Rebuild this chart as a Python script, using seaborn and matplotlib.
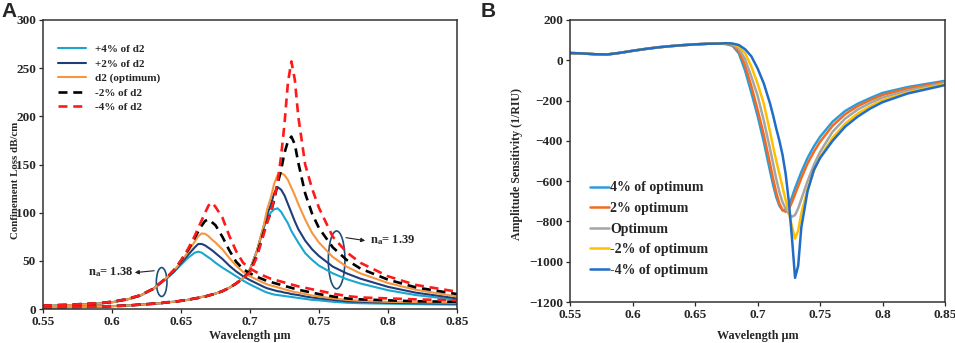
import numpy as np
import pandas as pd
import matplotlib
matplotlib.use("Agg")
import matplotlib.pyplot as plt
import seaborn as sns
from matplotlib.patches import Ellipse

# ===================== Data: panel A (confinement loss) =====================
wl_a = [0.55, 0.57, 0.59, 0.60, 0.61, 0.62, 0.63, 0.635, 0.64, 0.645,
        0.65, 0.655, 0.66, 0.6625, 0.665, 0.6675, 0.67, 0.6725, 0.675, 0.68,
        0.685, 0.69, 0.695, 0.70, 0.705, 0.71, 0.7125, 0.715, 0.7175, 0.72,
        0.7225, 0.725, 0.7275, 0.73, 0.7325, 0.735, 0.74, 0.745, 0.75, 0.76,
        0.77, 0.78, 0.80, 0.82, 0.85]

# n_a = 1.38
p4_138 = [3, 4, 5.5, 7, 9.5, 13.5, 21, 27, 32, 38.5, 46, 53, 58.5, 59.5, 58.5, 56, 53.5, 51, 48, 43,
          38.5, 34, 29.5, 25.5, 22, 18.5, 17, 16, 15, 14.5, 14, 13.5, 13, 12.5, 12, 11.5, 10.5, 9.5, 9, 7.5,
          6.5, 6, 5.5, 5, 4.5]
p2_138 = [3, 4, 5.5, 7, 9.5, 13.5, 21, 27, 32.5, 39, 47.5, 56, 64, 67.5, 67.5, 66, 63.5, 61, 58, 52,
          45, 39, 34, 30, 26.5, 23, 21.5, 20.5, 19.5, 18.5, 18, 17, 16.5, 15.5, 15, 14.5, 13, 12, 11, 9.5,
          8, 7.5, 6.5, 6, 5.5]
opt_138 = [3, 4, 5.5, 7, 9.5, 13.5, 21, 27, 33, 40, 49, 59, 70, 75.5, 78.5, 78, 75.5, 72, 69, 62,
           53, 45, 38.5, 34, 30.5, 27, 25.5, 24.5, 23.5, 22.5, 21.5, 20.5, 19.5, 18.5, 17.5, 17, 15.5, 14, 13, 11,
           9.5, 8.5, 7.5, 7, 6.5]
m2_138 = [3.5, 4.5, 6, 7.5, 10, 14, 21, 27, 33, 40.5, 50, 61, 74, 80.5, 86.5, 91.5, 93, 90, 87, 75,
          61, 49, 41.5, 37, 33.5, 30.5, 29, 28, 27, 26, 25, 24, 23, 22, 21, 20, 18.5, 17, 15.5, 13,
          11, 10, 9, 8, 7.5]
m4_138 = [3.5, 4.5, 6, 7.5, 10, 14, 21, 27, 33, 40.5, 50.5, 62, 76, 84, 92, 100, 107.5, 110.5, 106, 95,
          76, 60, 48, 42, 38, 34.5, 33, 31.5, 30.5, 29.5, 28.5, 27.5, 26.5, 25.5, 24.5, 23.5, 22, 20.5, 19, 16,
          13.5, 12, 11, 10, 9]

# n_a = 1.39
low_139 = [1.5, 2, 2.5, 3, 3.5, 4.5, 5.5, 6, 7, 7.5, 8.5, 9.5, 11, 11.5, 12.5, 13, 14, 15, 16, 18.5,
           22, 26.5, 32]
p4_139 = low_139 + [41, 60, 84, 94, 100, 103.5, 104.5, 101, 95, 89, 81, 75, 69, 58, 51, 45, 37,
                    31, 26.5, 19.5, 14.5, 9.5]
p2_139 = low_139 + [41, 60, 86, 98, 108, 120, 126.5, 124, 118, 109, 100, 91, 83, 71, 62, 55, 44,
                    37, 31.5, 23, 17, 11]
opt_139 = low_139 + [41, 60, 87, 104, 115, 130, 139, 141, 139, 134, 126, 118, 109, 93, 79, 69, 54,
                     44, 37, 27, 20, 13]
m2_139 = low_139 + [39, 56, 80, 91, 100, 113, 130, 144, 162, 174, 179, 171, 152, 120, 99, 84, 64,
                    51, 42, 30.5, 22.5, 15.5]
m4_139 = low_139 + [38, 54, 78, 90, 100, 114, 132, 158, 192, 235, 257, 238, 200, 150, 125, 105, 75,
                    59, 48, 34, 25, 18]

labels_a = ["+4% of d2", "+2% of d2", "d2 (optimum)", "-2% of d2", "-4% of d2"]
colors_a = ["#1aa7cf", "#1f3d7a", "#f7963f", "black", "#ff1a1a"]

# ===================== Data: panel B (amplitude sensitivity) =====================
wl_b = [0.55, 0.56, 0.57, 0.58, 0.59, 0.60, 0.61, 0.62, 0.63, 0.64, 0.65, 0.66, 0.67,
        0.675, 0.68, 0.685, 0.69, 0.695, 0.70, 0.705, 0.71, 0.7125, 0.715, 0.7175, 0.72,
        0.7225, 0.725, 0.7275, 0.73, 0.7325, 0.735, 0.74, 0.745, 0.75, 0.76, 0.77, 0.78,
        0.79, 0.80, 0.82, 0.85]
start_b = [36, 34, 30, 29, 37, 47, 56, 64, 70, 75, 79, 82, 83]
s_p4 = start_b + [80, 72, 35, -50, -160, -275, -405, -550, -620, -680, -722, -745, -742, -720, -680,
                  -635, -595, -555, -485, -428, -380, -305, -252, -216, -188, -162, -133, -102]
s_p2 = start_b + [82, 76, 45, -25, -128, -245, -370, -515, -590, -658, -712, -743, -752, -738, -705,
                  -665, -625, -585, -512, -455, -405, -325, -268, -228, -198, -172, -140, -108]
s_opt = start_b + [83, 79, 58, 5, -80, -175, -300, -440, -515, -590, -655, -705, -738, -762, -777,
                   -768, -735, -690, -600, -520, -455, -355, -290, -245, -212, -185, -150, -113]
s_m2 = start_b + [84, 81, 68, 35, -30, -115, -215, -355, -430, -500, -565, -630, -695, -755, -825,
                  -885, -845, -760, -640, -550, -480, -385, -315, -265, -228, -198, -160, -118]
s_m4 = start_b + [85, 83, 76, 55, 20, -40, -115, -215, -275, -340, -400, -470, -565, -700, -880,
                  -1080, -1020, -830, -650, -545, -485, -400, -330, -280, -240, -208, -165, -123]

labels_b = ["4% of optimum", "2% optimum", "Optimum", "-2% of optimum", "-4% of optimum"]
colors_b = ["#2a9ddc", "#f46b1f", "#a5a5a5", "#ffc000", "#1f6cc9"]

# ===================== Style =====================
sns.set_style("ticks")
plt.rcParams['font.family'] = ['Liberation Serif', 'DejaVu Serif']
plt.rcParams['font.weight'] = 'bold'
plt.rcParams['axes.labelweight'] = 'bold'
plt.rcParams['mathtext.fontset'] = 'custom'
plt.rcParams['mathtext.rm'] = 'Liberation Serif:bold'
plt.rcParams['mathtext.it'] = 'Liberation Serif:italic:bold'
plt.rcParams['mathtext.bf'] = 'Liberation Serif:bold'

fig = plt.figure(figsize=(9.55, 3.43), dpi=100)
axA = fig.add_axes([0.045, 0.0991, 0.4335, 0.8426])
axB = fig.add_axes([0.5969, 0.1195, 0.3927, 0.8222])

# ===================== Panel A =====================
dash = (0, (3.4, 2.2))
sets_138 = [p4_138, p2_138, opt_138, m2_138, m4_138]
sets_139 = [p4_139, p2_139, opt_139, m2_139, m4_139]
for i in range(5):
    ls = dash if i >= 3 else "-"
    lw = 1.9 if i >= 3 else 1.5
    sns.lineplot(x=wl_a, y=sets_138[i], ax=axA, color=colors_a[i], lw=lw,
                 linestyle=ls, label=labels_a[i])
    sns.lineplot(x=wl_a, y=sets_139[i], ax=axA, color=colors_a[i], lw=lw,
                 linestyle=ls)

axA.set_xlim(0.55, 0.85)
axA.set_ylim(0, 300)
axA.set_xticks([0.55, 0.6, 0.65, 0.7, 0.75, 0.8, 0.85])
axA.set_xticklabels(["0.55", "0.6", "0.65", "0.7", "0.75", "0.8", "0.85"])
axA.set_yticks(range(0, 301, 50))
axA.set_xlabel("Wavelength µm", fontsize=8.7, fontweight="bold")
axA.set_ylabel("Confinement Loss dB/cm", fontsize=7.8, fontweight="bold")
axA.xaxis.set_label_coords(0.5, -0.072)
axA.yaxis.set_label_coords(-0.056, 0.446)

# ellipses and n_a labels
axA.add_patch(Ellipse((0.636, 28), 0.0077, 30, fill=False, ec="#1f4e79", lw=1.2))
axA.add_patch(Ellipse((0.7628, 51), 0.012, 60, fill=False, ec="#1f4e79", lw=1.2))
axA.annotate("", xy=(0.6145, 37.5), xytext=(0.6326, 40),
             arrowprops=dict(arrowstyle="-|>", color="#222222", lw=0.8, mutation_scale=6))
axA.annotate("", xy=(0.7855, 70.5), xytext=(0.7676, 74.5),
             arrowprops=dict(arrowstyle="-|>", color="#222222", lw=0.8, mutation_scale=6))
axA.text(0.5826, 38, r"n$_\mathrm{a}$= 1.38", fontsize=9, fontweight="bold", va="center")
axA.text(0.787, 71.3, r"n$_\mathrm{a}$= 1.39", fontsize=9, fontweight="bold", va="center")

axA.legend(loc="upper left", bbox_to_anchor=(0.012, 0.95), frameon=False, fontsize=8,
           handlelength=2.5, handletextpad=0.8, labelspacing=0.42)

# ===================== Panel B =====================
sets_b = [s_p4, s_p2, s_opt, s_m2, s_m4]
for i in range(5):
    sns.lineplot(x=wl_b, y=sets_b[i], ax=axB, color=colors_b[i], lw=1.8, label=labels_b[i])

axB.set_xlim(0.55, 0.85)
axB.set_ylim(-1200, 200)
axB.set_xticks([0.55, 0.6, 0.65, 0.7, 0.75, 0.8, 0.85])
axB.set_xticklabels(["0.55", "0.6", "0.65", "0.7", "0.75", "0.8", "0.85"])
axB.set_yticks(range(-1200, 201, 200))
axB.set_xlabel("Wavelength µm", fontsize=8.7, fontweight="bold")
axB.set_ylabel("Amplitude Sensitivity (1/RIU)", fontsize=8.6, fontweight="bold")
axB.xaxis.set_label_coords(0.5, -0.098)
axB.yaxis.set_label_coords(-0.125, 0.49)
axB.legend(loc="upper left", bbox_to_anchor=(0.02, 0.472), frameon=False, fontsize=10,
           handlelength=1.4, handletextpad=0.05, labelspacing=0.55)

for ax in (axA, axB):
    for s in ax.spines.values():
        s.set_linewidth(1.1)
        s.set_color("#333333")
    ax.tick_params(labelsize=9.5, length=3, width=0.9, direction="out", pad=2)
    for t in ax.get_xticklabels() + ax.get_yticklabels():
        t.set_fontweight("bold")

fig.text(0.002, 0.995, "A", fontsize=15, fontweight="bold", family="Liberation Sans", va="top")
fig.text(0.503, 0.995, "B", fontsize=15, fontweight="bold", family="Liberation Sans", va="top")

fig.savefig("out.png", dpi=100)
